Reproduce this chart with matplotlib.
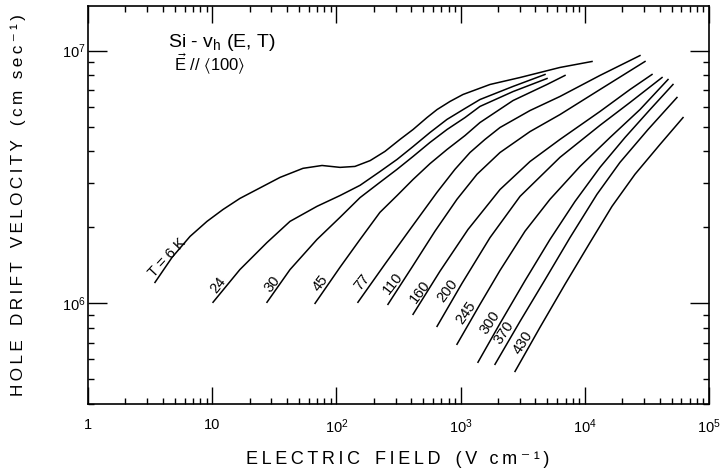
import math
import matplotlib
matplotlib.use("Agg")
import matplotlib.pyplot as plt
from matplotlib.ticker import LogLocator, FuncFormatter, NullFormatter

plt.rcParams['font.family'] = ['Liberation Sans', 'DejaVu Sans']
plt.rcParams['mathtext.default'] = 'regular'

# field in V/cm, velocity in 1e6 cm/s
field_6 = [3.46, 4.75, 6.63, 9.08, 12.2, 16.7, 22.9, 35.2, 53.8, 76.6, 107, 141, 187, 246,
           325, 414, 536, 646, 822, 1045, 1725, 3010, 6310, 11430]
vel_6 = [1.21, 1.52, 1.84, 2.11, 2.35, 2.60, 2.82, 3.15, 3.42, 3.51, 3.45, 3.48, 3.67, 3.99,
         4.45, 4.87, 5.43, 5.84, 6.29, 6.70, 7.34, 7.82, 8.57, 9.05]

field_24 = [10.15, 16.7, 27.6, 42.3, 69.8, 107, 155, 224, 308, 414, 567, 777, 1085, 1432, 2642, 4782]
vel_24 = [1.01, 1.36, 1.74, 2.11, 2.42, 2.67, 2.93, 3.32, 3.71, 4.17, 4.74, 5.34, 5.90, 6.40, 7.21, 8.04]

field_30 = [27.6, 42.3, 69.8, 107, 155, 224, 308, 414, 567, 777, 1085, 1432, 2642, 4963]
vel_30 = [1.01, 1.36, 1.79, 2.19, 2.62, 3.01, 3.39, 3.81, 4.33, 4.87, 5.43, 6.01, 6.88, 7.75]

field_45 = [67.3, 107, 155, 224, 308, 414, 567, 777, 1085, 1432, 2642, 4963, 6929]
vel_45 = [1.00, 1.39, 1.79, 2.29, 2.67, 3.09, 3.57, 4.06, 4.61, 5.19, 6.34, 7.34, 7.97]

field_77 = [149, 246, 391, 646, 901, 1190, 1571, 2076, 3622, 6310, 13250, 27800]
vel_77 = [1.01, 1.43, 1.96, 2.75, 3.39, 3.95, 4.45, 4.96, 5.79, 6.58, 7.97, 9.55]

field_110 = [260, 406, 622, 935, 1355, 2076, 3622, 6310, 13250, 30530]
vel_110 = [0.991, 1.39, 1.93, 2.58, 3.24, 3.95, 4.78, 5.58, 7.01, 9.05]

field_160 = [414, 682, 1147, 2076, 3622, 6310, 13250, 23110, 34760]
vel_160 = [0.905, 1.34, 1.96, 2.82, 3.64, 4.45, 5.74, 7.01, 8.04]

field_200 = [646, 1026, 1725, 3010, 6310, 13250, 23110, 41860]
vel_200 = [0.811, 1.20, 1.82, 2.65, 3.78, 5.06, 6.23, 7.82]

field_245 = [935, 1432, 2076, 3302, 5245, 9150, 15960, 27800, 46770]
vel_245 = [0.689, 0.991, 1.35, 1.93, 2.58, 3.48, 4.53, 5.84, 7.68]

field_300 = [1380, 2076, 3302, 5245, 8340, 13250, 21080, 33500, 51290]
vel_300 = [0.585, 0.833, 1.23, 1.79, 2.53, 3.45, 4.53, 5.84, 7.34]

field_370 = [1892, 3010, 4782, 7600, 12530, 19190, 32280, 55220]
vel_370 = [0.574, 0.849, 1.24, 1.82, 2.70, 3.61, 4.87, 6.52]

field_430 = [2742, 4358, 6929, 11010, 16560, 25350, 40290, 61800]
vel_430 = [0.538, 0.804, 1.19, 1.74, 2.42, 3.24, 4.25, 5.43]

labels = ["T = 6 K", "24", "30", "45", "77", "110", "160", "200", "245", "300", "370", "430"]
fields = [field_6, field_24, field_30, field_45, field_77, field_110, field_160,
          field_200, field_245, field_300, field_370, field_430]
vels = [vel_6, vel_24, vel_30, vel_45, vel_77, vel_110, vel_160,
        vel_200, vel_245, vel_300, vel_370, vel_430]

# label offsets from the low end of each curve (points) and rotation
offsets = [(8.6, 17.5), (3.6, 12.6), (3.6, 13.4), (3.6, 14.4), (2.9, 14.8), (3.6, 15.5),
           (5, 16.2), (7.2, 25.9), (6.5, 23), (8.6, 28.8), (6.5, 23), (5.8, 20.9)]
rots = [47, 52, 52, 52, 52, 52, 53, 53, 55, 56, 56, 57]


def spaced(s):
    return "\u2009".join(s)


fig = plt.figure(figsize=(7.22, 4.75), dpi=100)
ax = fig.add_axes([0.1219, 0.1495, 0.9820 - 0.1219, 0.9874 - 0.1495])

for lab, f, v, off, rot in zip(labels, fields, vels, offsets, rots):
    ax.plot(f, [x * 1e6 for x in v], color='black', lw=1.1)
    ax.annotate(lab, xy=(f[0], v[0] * 1e6), xytext=off, textcoords='offset points',
                rotation=rot, ha='center', va='center', fontsize=10.5)

ax.set_xscale('log')
ax.set_yscale('log')
ax.set_xlim(1, 1e5)
ax.set_ylim(4e5, 1.5e7)

ax.xaxis.set_major_locator(LogLocator(base=10, numticks=10))
ax.xaxis.set_minor_locator(LogLocator(base=10, subs=range(2, 10), numticks=20))
ax.yaxis.set_major_locator(LogLocator(base=10, numticks=10))
ax.yaxis.set_minor_locator(LogLocator(base=10, subs=range(2, 10), numticks=20))


def xfmt(x, pos):
    if x < 1.5:
        return "1"
    if x < 15:
        return "10"
    return r"$10^{%d}$" % round(math.log10(x))


ax.xaxis.set_major_formatter(FuncFormatter(xfmt))
ax.yaxis.set_major_formatter(FuncFormatter(lambda y, p: r"$10^{%d}$" % round(math.log10(y))))
ax.xaxis.set_minor_formatter(NullFormatter())
ax.yaxis.set_minor_formatter(NullFormatter())

ax.tick_params(which='major', direction='in', top=True, right=True, length=12, width=1,
               labelsize=10.5)
ax.tick_params(axis='x', which='major', pad=10)
ax.tick_params(axis='y', which='major', pad=2, length=14)
ax.tick_params(which='minor', direction='in', top=True, right=True, length=4, width=1)
for s in ax.spines.values():
    s.set_linewidth(1.2)

ax.text(0.129, 0.907, "Si - v$_h$ (E, T)", transform=ax.transAxes, fontsize=14,
        ha='left', va='center')
ax.text(0.138, 0.852, r"$\vec{E}$ // $\langle$100$\rangle$", transform=ax.transAxes,
        fontsize=12, ha='left', va='center')

fig.text(0.551, 1 - 460 / 475, spaced("ELECTRIC") + "   " + spaced("FIELD") + "   " +
         spaced("(V cm\u207b\u00b9)"), ha='center', va='center', fontsize=13)
fig.text(0.025, 1 - 205 / 475, spaced("HOLE") + "   " + spaced("DRIFT") + "   " + spaced("VELOCITY") +
         "   " + spaced("(cm sec\u207b\u00b9)"), ha='center', va='center', fontsize=12.3, rotation=90)

fig.savefig("out.png", dpi=100)
